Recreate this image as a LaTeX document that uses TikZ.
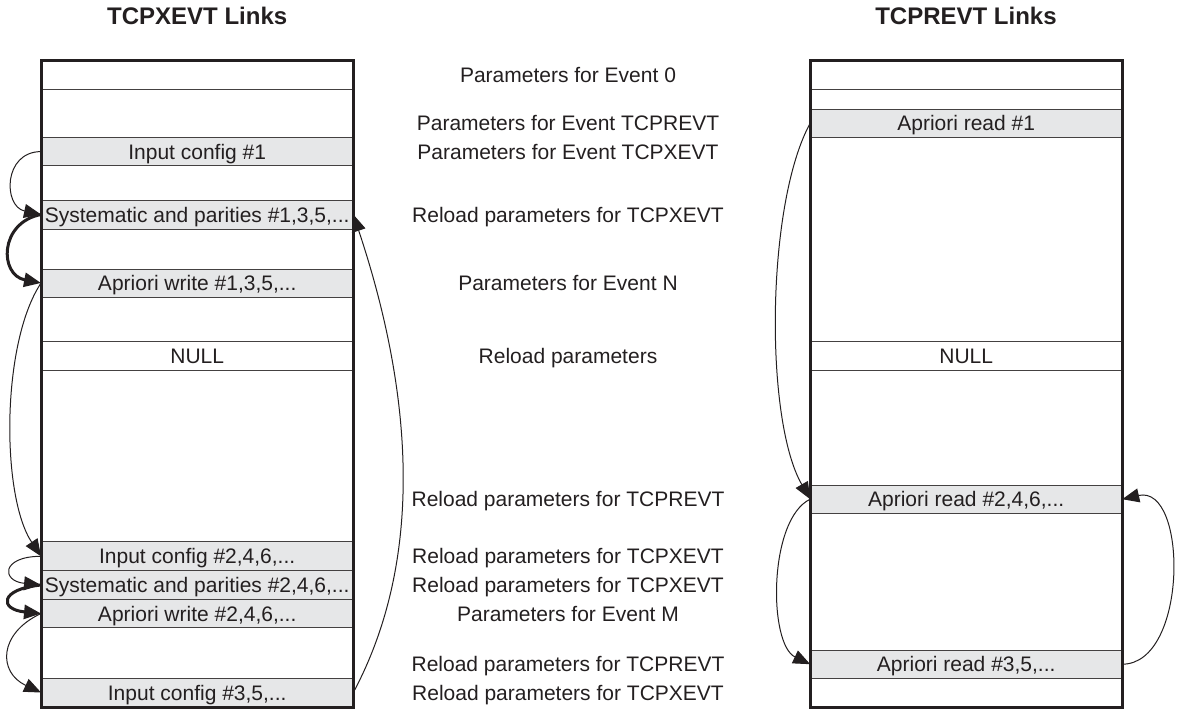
\documentclass[tikz,border=0pt]{standalone}
\usepackage{fontspec}
\setmainfont{Liberation Sans}
\usetikzlibrary{arrows.meta}
\definecolor{ink}{HTML}{231F20}
\definecolor{rowgray}{HTML}{E6E7E8}
\begin{document}
\begin{tikzpicture}[x=1pt,y=-1pt,
  txt/.style={text=ink, font=\fontsize{21}{24}\selectfont, text height=15pt, text depth=0pt, inner sep=0pt, outer sep=0pt},
  row/.style={txt, draw=ink!85, line width=1pt},
  lrow/.style={row, minimum width=312.3pt},
  rrow/.style={row, minimum width=312pt},
  grayfill/.style={fill=rowgray},
  sepline/.style={draw=ink!85, line width=1pt},
  title/.style={text=ink, font=\fontsize{24}{28}\selectfont\bfseries, text height=17.2pt, text depth=0pt, inner sep=0pt},
  frame/.style={draw=ink, line width=3pt, inner sep=0pt},
  link/.style={draw=ink, line width=1pt, -{Triangle[length=17pt,width=14pt]}},
  heavylink/.style={link, line width=3pt},
]
\useasboundingbox (0,0) rectangle (1178,709);

% titles
\node[title] (t1) at (197.2,16) {TCPXEVT Links};
\node[title] (t2) at (966,16) {TCPREVT Links};

% left column rows
\draw[sepline] (41,89.3) -- (353.3,89.3);
\node[lrow, grayfill, minimum height=28.7pt] (ic1)  at (197.2,151.6) {Input config \#1};
\node[lrow, grayfill, minimum height=29pt]   (sys1) at (197.2,214.5) {Systematic and parities \#1,3,5,...};
\node[lrow, grayfill, minimum height=28pt]   (apw1) at (197.2,283)   {Apriori write \#1,3,5,...};
\node[lrow, minimum height=29pt]             (nl1)  at (197.2,355.5) {NULL};
\node[lrow, grayfill, minimum height=28.7pt] (ic2)  at (197.2,556.3) {Input config \#2,4,6,...};
\node[lrow, grayfill, minimum height=28.6pt] (sys2) at (197.2,585)   {Systematic and parities \#2,4,6,...};
\node[lrow, grayfill, minimum height=28.4pt] (apw2) at (197.2,613.5) {Apriori write \#2,4,6,...};
\node[lrow, grayfill, minimum height=29pt]   (ic3)  at (197.2,692.5) {Input config \#3,5,...};
\node[frame, minimum width=312.3pt, minimum height=646pt] (lbox) at (197.2,384) {};

% right column rows
\draw[sepline] (810.3,89.3) -- (1122.2,89.3);
\node[rrow, grayfill, minimum height=28.3pt] (ar1) at (966.2,123.2) {Apriori read \#1};
\node[rrow, minimum height=29pt]             (nl2) at (966.2,355.5) {NULL};
\node[rrow, grayfill, minimum height=28.3pt] (ar2) at (966.2,499.2) {Apriori read \#2,4,6,...};
\node[rrow, grayfill, minimum height=28.3pt] (ar3) at (966.2,664.2) {Apriori read \#3,5,...};
\node[frame, minimum width=312pt, minimum height=646pt] (rbox) at (966.2,384) {};

% middle labels
\node[txt] (m1)  at (568,75)    {Parameters for Event 0};
\node[txt] (m2)  at (568,123.2) {Parameters for Event TCPREVT};
\node[txt] (m3)  at (568,151.6) {Parameters for Event TCPXEVT};
\node[txt] (m4)  at (568,214.5) {Reload parameters for TCPXEVT};
\node[txt] (m5)  at (568,283)   {Parameters for Event N};
\node[txt] (m6)  at (568,355.5) {Reload parameters};
\node[txt] (m7)  at (568,499.2) {Reload parameters for TCPREVT};
\node[txt] (m8)  at (568,556.3) {Reload parameters for TCPXEVT};
\node[txt] (m9)  at (568,585)   {Reload parameters for TCPXEVT};
\node[txt] (m10) at (568,613.5) {Parameters for Event M};
\node[txt] (m11) at (568,664.2) {Reload parameters for TCPREVT};
\node[txt] (m12) at (568,692.5) {Reload parameters for TCPXEVT};

% left links
\draw[link] (ic1.west) .. controls +(-38,0) and +(-38,-8) .. (sys1.west);
\draw[heavylink] (sys1.west) .. controls +(-42,8) and +(-42,-8) .. (apw1.west);
\draw[link] (apw1.west) .. controls +(-40,60) and +(-40,-60) .. (ic2.west);
\draw[link] (ic2.west) .. controls +(-40,0) and +(-40,-4) .. (sys2.west);
\draw[heavylink] (sys2.west) .. controls +(-42,4) and +(-42,-4) .. (apw2.west);
\draw[link] (apw2.west) .. controls +(-43,20) and +(-43,-20) .. (ic3.west);
\draw[link] (ic3.east) .. controls +(80,-150) and +(50,150) .. (sys1.east);

% right links
\draw[link] (ar1.west) .. controls +(-44,80) and +(-46,-80) .. (ar2.west);
\draw[link] (ar2.west) .. controls +(-42,20) and +(-42,-20) .. (ar3.west);
\draw[link] (ar3.east) .. controls +(66,0) and +(66,-15) .. (ar2.east);
\end{tikzpicture}
\end{document}
